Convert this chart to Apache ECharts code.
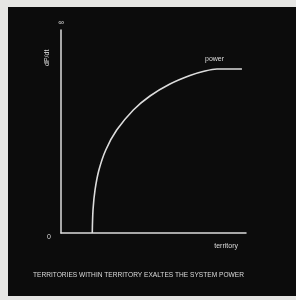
<!DOCTYPE html>
<html><head><meta charset="utf-8">
<script src="https://cdn.jsdelivr.net/npm/echarts@6/dist/echarts.min.js"></script>
<style>html,body{margin:0;padding:0;background:#e6e6e4;}#c{width:296px;height:300px;}</style>
</head><body><div id="c"></div>
<script>
// data (territory %, power %)
const territory = [16.9, 17.3, 18.4, 20.5, 24.2, 30.1, 39.1, 48.1, 58.9, 69.7, 77.8, 84.3, 97.8];
const power     = [0,    11.3, 21.2, 31.0, 40.9, 50.7, 60.6, 67.5, 73.4, 77.6, 79.8, 80.8, 80.8];
const xName = 'territory';
const yTop = '\u221E';
const yZero = '0';
const yLabel = 'dP/dt';
const curveLabel = 'power';
const caption = 'TERRITORIES WITHIN TERRITORY EXALTES THE SYSTEM POWER';

const chart = echarts.init(document.getElementById('c'), null, {renderer: 'canvas'});
const fg = '#dcdcdc';
const font = 'Liberation Sans';
chart.setOption({
  backgroundColor: '#e6e6e4',
  animation: false,
  grid: {left: 61, top: 30, width: 185, height: 203},
  xAxis: {type: 'value', min: 0, max: 100, axisLine: {lineStyle: {color: fg, width: 1.5}},
    axisTick: {show: false}, axisLabel: {show: false}, splitLine: {show: false},
    name: xName, nameLocation: 'end', nameGap: 0,
    nameTextStyle: {color: fg, fontSize: 7, fontFamily: font, align: 'right', verticalAlign: 'top', padding: [10, 8, 0, 0]}},
  yAxis: {type: 'value', min: 0, max: 100, axisLine: {lineStyle: {color: fg, width: 1.5}},
    axisTick: {show: false}, axisLabel: {show: false}, splitLine: {show: false},
    name: yTop, nameLocation: 'end', nameGap: 3,
    nameTextStyle: {color: fg, fontSize: 8, fontFamily: font}},
  graphic: [
    {type: 'rect', z: -10, shape: {x: 8, y: 7, width: 288, height: 289}, style: {fill: '#0c0c0c'}},
    {type: 'text', left: 47, top: 234, style: {text: yZero, fill: fg, font: '7px ' + font}},
    {type: 'text', x: 44, y: 66, rotation: Math.PI / 2, style: {text: yLabel, fill: fg, font: '7px ' + font}},
    {type: 'text', left: 205, top: 56, style: {text: curveLabel, fill: fg, font: '7px ' + font}},
    {type: 'text', left: 33, top: 272, style: {text: caption, fill: fg, font: '6.6px ' + font}}
  ],
  series: [{type: 'line', data: territory.map((t, i) => [t, power[i]]), smooth: 0.3,
    showSymbol: false, lineStyle: {color: fg, width: 1.6}}]
});
</script></body></html>
